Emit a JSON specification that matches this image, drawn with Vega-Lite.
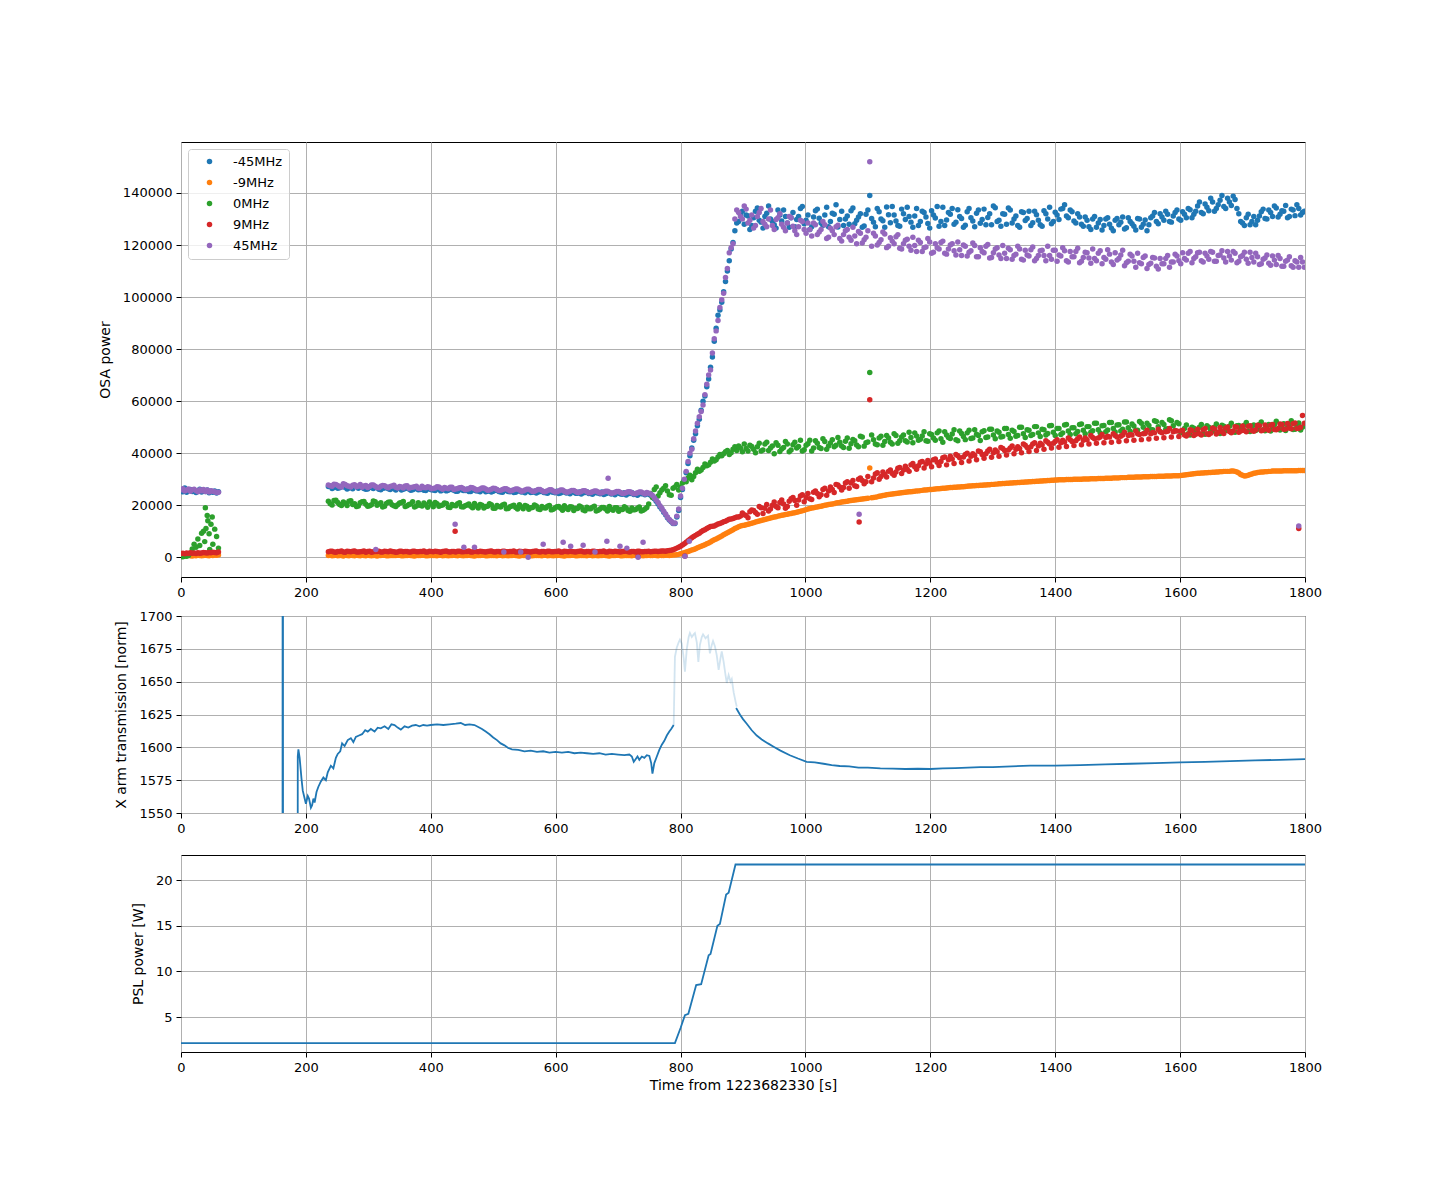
{
  "$schema": "https://vega.github.io/schema/vega-lite/v6.json",
  "background": "white",
  "padding": {"left": 97, "top": 141, "right": 10, "bottom": 10},
  "spacing": 9,
  "config": {
    "font": "DejaVu Sans",
    "view": {"stroke": "black", "strokeWidth": 1},
    "axis": {
      "labelFont": "DejaVu Sans", "labelFontSize": 13, "labelColor": "black",
      "titleFont": "DejaVu Sans", "titleFontSize": 14, "titleFontWeight": "normal", "titleColor": "black",
      "tickColor": "black", "tickSize": 5, "tickWidth": 1, "labelPadding": 4, "titlePadding": 5,
      "domain": false, "grid": true, "gridColor": "#b0b0b0", "gridWidth": 1,
      "labelFlush": false, "labelOverlap": false
    },
    "axisY": {"titlePadding": 10, "labelPadding": 4}
  },
  "datasets": {
    "osa": [
      {"t":0,"a":25800,"b":600,"c":300,"d":1400,"e":25900},
      {"t":3,"a":25200,"b":500,"c":200,"d":1500,"e":26300},
      {"t":6,"a":26600,"b":700,"c":500,"d":1300,"e":25500},
      {"t":9,"a":25000,"b":600,"c":400,"d":1600,"e":25800},
      {"t":12,"a":25600,"b":800,"c":700,"d":1400,"e":26200},
      {"t":15,"a":26000,"b":600,"c":1500,"d":1700,"e":25400},
      {"t":18,"a":25300,"b":500,"c":3200,"d":1500,"e":25900},
      {"t":21,"a":25700,"b":700,"c":5000,"d":1600,"e":26100},
      {"t":24,"a":24900,"b":600,"c":3800,"d":1400,"e":25600},
      {"t":27,"a":25500,"b":800,"c":7000,"d":1700,"e":25200},
      {"t":30,"a":26100,"b":700,"c":4500,"d":1500,"e":25900},
      {"t":33,"a":25100,"b":600,"c":9200,"d":1600,"e":25500},
      {"t":36,"a":25600,"b":700,"c":10000,"d":1800,"e":26000},
      {"t":39,"a":25300,"b":800,"c":19000,"d":1700,"e":25300},
      {"t":42,"a":25800,"b":700,"c":16000,"d":1600,"e":25800},
      {"t":45,"a":24800,"b":600,"c":9000,"d":1800,"e":25100},
      {"t":48,"a":25400,"b":800,"c":12700,"d":1700,"e":25600},
      {"t":51,"a":25000,"b":700,"c":5000,"d":1900,"e":25400},
      {"t":54,"a":25500,"b":900,"c":10800,"d":1800,"e":25200},
      {"t":57,"a":24700,"b":800,"c":8000,"d":1700,"e":24900},
      {"t":60,"a":25200,"b":900,"c":3500,"d":2000,"e":25000},
      {"t":38,"c":6000},{"t":43,"c":14000},{"t":46,"c":3000},{"t":50,"c":15500},{"t":40,"c":11000},
      {"t":236,"a":27200,"b":700,"c":21500,"d":2100,"e":27800},
      {"t":242,"a":26400,"b":600,"c":20100,"d":2300,"e":27300},
      {"t":248,"a":27500,"b":800,"c":21900,"d":1900,"e":28000},
      {"t":254,"a":26700,"b":700,"c":20300,"d":2200,"e":27100},
      {"t":260,"a":27100,"b":500,"c":21200,"d":2000,"e":28200},
      {"t":266,"a":26200,"b":700,"c":19900,"d":2300,"e":27500},
      {"t":272,"a":26900,"b":800,"c":21700,"d":2100,"e":27000},
      {"t":278,"a":27400,"b":600,"c":20600,"d":2400,"e":27900},
      {"t":284,"a":26500,"b":700,"c":19700,"d":2000,"e":27400},
      {"t":290,"a":26800,"b":800,"c":21300,"d":2200,"e":26900},
      {"t":296,"a":26100,"b":600,"c":20400,"d":1900,"e":27600},
      {"t":302,"a":27000,"b":700,"c":19800,"d":2300,"e":27200},
      {"t":308,"a":26400,"b":700,"c":21600,"d":2100,"e":27800},
      {"t":314,"a":26700,"b":500,"c":20000,"d":2200,"e":26800},
      {"t":320,"a":25900,"b":700,"c":20900,"d":2000,"e":27300},
      {"t":326,"a":26600,"b":800,"c":19600,"d":2300,"e":27500},
      {"t":332,"a":26300,"b":600,"c":21100,"d":2100,"e":26700},
      {"t":338,"a":26900,"b":700,"c":20200,"d":2200,"e":27400},
      {"t":344,"a":25800,"b":700,"c":19500,"d":1900,"e":26900},
      {"t":350,"a":26500,"b":800,"c":20800,"d":2300,"e":27200},
      {"t":356,"a":26100,"b":600,"c":21400,"d":2100,"e":26600},
      {"t":362,"a":26700,"b":700,"c":19800,"d":2200,"e":27500},
      {"t":368,"a":25700,"b":700,"c":20500,"d":2000,"e":26800},
      {"t":374,"a":26300,"b":500,"c":19300,"d":2300,"e":27100},
      {"t":380,"a":25900,"b":700,"c":20900,"d":2100,"e":26500},
      {"t":386,"a":26400,"b":800,"c":19700,"d":2200,"e":27300},
      {"t":392,"a":25600,"b":600,"c":20200,"d":2000,"e":26700},
      {"t":398,"a":26200,"b":700,"c":21200,"d":2300,"e":26900},
      {"t":404,"a":25800,"b":700,"c":19400,"d":2100,"e":26400},
      {"t":410,"a":26300,"b":600,"c":20600,"d":2200,"e":27100},
      {"t":416,"a":25500,"b":800,"c":19900,"d":1900,"e":26500},
      {"t":422,"a":26100,"b":700,"c":20800,"d":2300,"e":26800},
      {"t":428,"a":25700,"b":600,"c":19200,"d":2100,"e":26300},
      {"t":434,"a":26000,"b":700,"c":20300,"d":2200,"e":26900},
      {"t":440,"a":25400,"b":700,"c":19800,"d":2000,"e":26200},
      {"t":446,"a":25900,"b":800,"c":20900,"d":2300,"e":26700},
      {"t":452,"a":25600,"b":600,"c":19300,"d":2100,"e":26400},
      {"t":458,"a":26100,"b":700,"c":20100,"d":2200,"e":26100},
      {"t":464,"a":25300,"b":700,"c":19600,"d":2000,"e":26800},
      {"t":470,"a":25800,"b":500,"c":20700,"d":2300,"e":26300},
      {"t":476,"a":25500,"b":700,"c":18900,"d":2100,"e":25900},
      {"t":482,"a":25900,"b":800,"c":20000,"d":2200,"e":26600},
      {"t":488,"a":25200,"b":600,"c":19500,"d":2000,"e":26200},
      {"t":494,"a":25700,"b":700,"c":20600,"d":2300,"e":25800},
      {"t":500,"a":25400,"b":700,"c":18800,"d":2100,"e":26500},
      {"t":506,"a":25800,"b":600,"c":19900,"d":2200,"e":26000},
      {"t":512,"a":25100,"b":800,"c":19300,"d":2000,"e":25700},
      {"t":518,"a":25600,"b":700,"c":20400,"d":2300,"e":26300},
      {"t":524,"a":25300,"b":600,"c":18700,"d":2100,"e":25900},
      {"t":530,"a":25700,"b":700,"c":19700,"d":2200,"e":25600},
      {"t":536,"a":25000,"b":700,"c":19100,"d":2000,"e":26200},
      {"t":542,"a":25500,"b":500,"c":20200,"d":2300,"e":25800},
      {"t":548,"a":25200,"b":700,"c":18600,"d":2100,"e":25500},
      {"t":554,"a":25600,"b":800,"c":19600,"d":2200,"e":26100},
      {"t":560,"a":24900,"b":600,"c":19000,"d":2000,"e":25700},
      {"t":566,"a":25400,"b":700,"c":20100,"d":2300,"e":25400},
      {"t":572,"a":25100,"b":700,"c":18500,"d":2100,"e":26000},
      {"t":578,"a":25500,"b":600,"c":19500,"d":2200,"e":25600},
      {"t":584,"a":24800,"b":800,"c":18900,"d":2000,"e":25300},
      {"t":590,"a":25300,"b":700,"c":19900,"d":2300,"e":25900},
      {"t":596,"a":25000,"b":600,"c":18400,"d":2100,"e":25500},
      {"t":602,"a":25400,"b":700,"c":19400,"d":2200,"e":25200},
      {"t":608,"a":24700,"b":700,"c":18800,"d":2000,"e":25800},
      {"t":614,"a":25200,"b":500,"c":19800,"d":2300,"e":25400},
      {"t":620,"a":24900,"b":700,"c":18300,"d":2100,"e":25100},
      {"t":626,"a":25300,"b":800,"c":19300,"d":2200,"e":25700},
      {"t":632,"a":24600,"b":600,"c":18700,"d":2000,"e":25300},
      {"t":638,"a":25100,"b":700,"c":19700,"d":2300,"e":25000},
      {"t":644,"a":24800,"b":700,"c":18200,"d":2100,"e":25600},
      {"t":650,"a":25200,"b":600,"c":19200,"d":2200,"e":25200},
      {"t":656,"a":24500,"b":800,"c":18600,"d":2000,"e":24900},
      {"t":662,"a":25000,"b":700,"c":19600,"d":2300,"e":25500},
      {"t":668,"a":24700,"b":600,"c":18100,"d":2100,"e":25100},
      {"t":674,"a":25100,"b":700,"c":19100,"d":2200,"e":24800},
      {"t":680,"a":24400,"b":700,"c":18500,"d":2000,"e":25400},
      {"t":686,"a":24900,"b":500,"c":19500,"d":2300,"e":25000},
      {"t":692,"a":24600,"b":700,"c":18100,"d":2100,"e":24700},
      {"t":698,"a":25000,"b":800,"c":19000,"d":2200,"e":25300},
      {"t":704,"a":24300,"b":600,"c":18400,"d":2000,"e":24900},
      {"t":710,"a":24800,"b":700,"c":19400,"d":2300,"e":24600},
      {"t":716,"a":24500,"b":700,"c":18000,"d":2100,"e":25200},
      {"t":722,"a":24900,"b":600,"c":18900,"d":2200,"e":24800},
      {"t":728,"a":24200,"b":800,"c":18300,"d":2000,"e":24500},
      {"t":734,"a":24700,"b":700,"c":19300,"d":2300,"e":25100},
      {"t":740,"a":24400,"b":600,"c":18100,"d":2100,"e":24700},
      {"t":746,"a":24600,"b":700,"c":19100,"d":2200,"e":24900},
      {"t":752,"a":23800,"b":700,"c":24500,"d":2100,"e":24300},
      {"t":758,"a":22500,"b":800,"c":26000,"d":2300,"e":22900},
      {"t":764,"a":20500,"b":600,"c":23500,"d":2200,"e":21000},
      {"t":770,"a":18400,"b":700,"c":25800,"d":2400,"e":18800},
      {"t":776,"a":16300,"b":800,"c":27500,"d":2300,"e":16600},
      {"t":782,"a":14300,"b":700,"c":24000,"d":2600,"e":14500},
      {"t":788,"a":13000,"b":900,"c":26500,"d":2900,"e":13100},
      {"t":794,"a":15500,"b":1000,"c":28000,"d":3500,"e":15800},
      {"t":800,"a":23000,"b":1300,"c":27000,"d":4200,"e":23500},
      {"t":806,"a":29500,"b":1700,"c":29500,"d":5200,"e":30000},
      {"t":812,"a":36000,"b":2200,"c":30500,"d":6300,"e":36800},
      {"t":818,"a":42000,"b":2800,"c":29800,"d":7500,"e":41500},
      {"t":824,"a":47500,"b":3300,"c":32500,"d":8400,"e":48500},
      {"t":830,"a":53000,"b":3900,"c":33000,"d":9200,"e":54000},
      {"t":836,"a":60000,"b":4500,"c":34500,"d":10300,"e":58500},
      {"t":842,"a":65500,"b":5200,"c":35200,"d":11000,"e":66500},
      {"t":848,"a":73000,"b":5900,"c":36500,"d":11800,"e":72000},
      {"t":854,"a":83000,"b":6700,"c":37000,"d":12000,"e":84000},
      {"t":860,"a":93000,"b":7400,"c":38500,"d":12800,"e":91000},
      {"t":866,"a":98000,"b":8200,"c":39000,"d":13300,"e":99000},
      {"t":872,"a":106000,"b":9000,"c":40500,"d":13800,"e":107500},
      {"t":878,"a":114000,"b":9800,"c":39500,"d":14600,"e":117000},
      {"t":884,"a":121000,"b":10600,"c":41500,"d":14900,"e":120500},
      {"t":890,"a":128500,"b":11300,"c":41000,"d":15500,"e":133500},
      {"t":896,"a":131500,"b":12000,"c":42000,"d":15800,"e":131000},
      {"t":902,"a":128000,"b":12300,"c":43500,"d":16300,"e":135000},
      {"t":908,"a":131200,"b":12700,"c":40800,"d":15200,"e":128500},
      {"t":914,"a":127500,"b":13100,"c":42600,"d":18200,"e":131500},
      {"t":920,"a":133000,"b":13500,"c":40200,"d":17200,"e":127500},
      {"t":926,"a":129500,"b":13900,"c":43800,"d":19500,"e":132500},
      {"t":932,"a":126500,"b":14300,"c":41200,"d":16800,"e":129000},
      {"t":938,"a":132200,"b":14700,"c":44200,"d":20300,"e":127000},
      {"t":944,"a":130000,"b":15100,"c":42000,"d":18500,"e":133500},
      {"t":950,"a":127800,"b":15500,"c":39800,"d":21200,"e":126000},
      {"t":956,"a":133500,"b":15800,"c":43000,"d":19000,"e":130500},
      {"t":962,"a":129200,"b":16100,"c":41600,"d":22000,"e":128000},
      {"t":968,"a":131000,"b":16400,"c":44500,"d":18800,"e":125500},
      {"t":974,"a":126800,"b":16700,"c":40500,"d":21500,"e":131000},
      {"t":980,"a":132500,"b":17000,"c":43200,"d":23000,"e":127200},
      {"t":986,"a":129800,"b":17300,"c":42000,"d":20000,"e":124000},
      {"t":992,"a":134000,"b":17700,"c":45000,"d":23500,"e":129500},
      {"t":998,"a":128200,"b":18100,"c":41300,"d":21300,"e":126000},
      {"t":1004,"a":131500,"b":18500,"c":43600,"d":24500,"e":128500},
      {"t":1010,"a":127000,"b":18900,"c":40800,"d":22200,"e":123500},
      {"t":1016,"a":133200,"b":19200,"c":44800,"d":25500,"e":127800},
      {"t":1022,"a":130300,"b":19500,"c":42200,"d":23200,"e":125000},
      {"t":1028,"a":127600,"b":19800,"c":45500,"d":26000,"e":129000},
      {"t":1034,"a":134500,"b":20100,"c":41500,"d":23800,"e":122500},
      {"t":1040,"a":129000,"b":20400,"c":43900,"d":27000,"e":126500},
      {"t":1046,"a":131800,"b":20600,"c":42500,"d":24900,"e":124000},
      {"t":1052,"a":126900,"b":20900,"c":46000,"d":27800,"e":127600},
      {"t":1058,"a":133000,"b":21200,"c":42800,"d":25800,"e":121500},
      {"t":1064,"a":130000,"b":21400,"c":44600,"d":28500,"e":125500},
      {"t":1070,"a":128000,"b":21700,"c":41900,"d":26500,"e":123000},
      {"t":1076,"a":134200,"b":21900,"c":45300,"d":29500,"e":126800},
      {"t":1082,"a":129500,"b":22100,"c":43100,"d":27200,"e":120500},
      {"t":1088,"a":132000,"b":22300,"c":46500,"d":30500,"e":124500},
      {"t":1094,"a":127300,"b":22500,"c":42700,"d":28200,"e":122000},
      {"t":1100,"a":133500,"b":22700,"c":44300,"d":31000,"e":125500},
      {"t":1106,"a":130200,"b":22900,"c":47000,"d":29000,"e":119500},
      {"t":1112,"a":127000,"b":23100,"c":43500,"d":32000,"e":123500},
      {"t":1118,"a":132800,"b":23400,"c":45800,"d":30000,"e":121000},
      {"t":1124,"a":129300,"b":23700,"c":43000,"d":32800,"e":125000},
      {"t":1130,"a":134600,"b":24000,"c":46800,"d":30800,"e":119000},
      {"t":1136,"a":128600,"b":24200,"c":44200,"d":33500,"e":122800},
      {"t":1142,"a":131500,"b":24400,"c":47500,"d":31500,"e":120500},
      {"t":1148,"a":127500,"b":24600,"c":43800,"d":34200,"e":124000},
      {"t":1154,"a":133800,"b":24800,"c":46200,"d":32200,"e":118500},
      {"t":1160,"a":129800,"b":25000,"c":44800,"d":35000,"e":121800},
      {"t":1166,"a":131000,"b":25200,"c":48000,"d":33000,"e":119500},
      {"t":1172,"a":126800,"b":25300,"c":44000,"d":36000,"e":123000},
      {"t":1178,"a":134000,"b":25500,"c":46600,"d":33800,"e":117500},
      {"t":1184,"a":129000,"b":25600,"c":45300,"d":36500,"e":121000},
      {"t":1190,"a":132500,"b":25800,"c":48200,"d":34300,"e":119000},
      {"t":1196,"a":128300,"b":25900,"c":44600,"d":37200,"e":122500},
      {"t":1202,"a":133200,"b":26000,"c":47200,"d":34800,"e":116800},
      {"t":1208,"a":130400,"b":26200,"c":45000,"d":37800,"e":120500},
      {"t":1214,"a":127200,"b":26300,"c":48500,"d":35300,"e":118500},
      {"t":1220,"a":134500,"b":26500,"c":44200,"d":38200,"e":121500},
      {"t":1226,"a":129600,"b":26600,"c":47000,"d":35500,"e":116500},
      {"t":1232,"a":131800,"b":26800,"c":45600,"d":38800,"e":120000},
      {"t":1238,"a":128000,"b":26900,"c":49000,"d":36000,"e":117800},
      {"t":1244,"a":133600,"b":27000,"c":44800,"d":39000,"e":121200},
      {"t":1250,"a":130200,"b":27100,"c":47600,"d":36400,"e":116000},
      {"t":1256,"a":127600,"b":27200,"c":45200,"d":39500,"e":119500},
      {"t":1262,"a":134000,"b":27400,"c":48800,"d":37000,"e":117200},
      {"t":1268,"a":129200,"b":27500,"c":45800,"d":39800,"e":120800},
      {"t":1274,"a":132200,"b":27600,"c":47300,"d":37500,"e":115500},
      {"t":1280,"a":128400,"b":27700,"c":44900,"d":40500,"e":119000},
      {"t":1286,"a":133800,"b":27800,"c":48600,"d":38000,"e":117000},
      {"t":1292,"a":130600,"b":27900,"c":46200,"d":40800,"e":120200},
      {"t":1298,"a":127800,"b":28000,"c":49200,"d":38400,"e":115200},
      {"t":1304,"a":134300,"b":28100,"c":45500,"d":41200,"e":118500},
      {"t":1310,"a":129500,"b":28200,"c":48000,"d":38800,"e":116200},
      {"t":1316,"a":132000,"b":28300,"c":46400,"d":41800,"e":119800},
      {"t":1322,"a":128000,"b":28400,"c":49500,"d":39300,"e":114800},
      {"t":1328,"a":133500,"b":28500,"c":45700,"d":42000,"e":118200},
      {"t":1334,"a":130000,"b":28600,"c":48300,"d":39800,"e":116000},
      {"t":1340,"a":127500,"b":28700,"c":46800,"d":42500,"e":119500},
      {"t":1346,"a":132800,"b":28800,"c":50000,"d":40200,"e":114500},
      {"t":1352,"a":129400,"b":28900,"c":46000,"d":43000,"e":118000},
      {"t":1358,"a":133000,"b":29000,"c":48800,"d":40600,"e":115800},
      {"t":1364,"a":128600,"b":29100,"c":47200,"d":43500,"e":119200},
      {"t":1370,"a":131600,"b":29200,"c":50200,"d":41000,"e":114800},
      {"t":1376,"a":127800,"b":29300,"c":46400,"d":43800,"e":117800},
      {"t":1382,"a":133200,"b":29400,"c":49000,"d":41500,"e":116000},
      {"t":1388,"a":130000,"b":29500,"c":47600,"d":44200,"e":119500},
      {"t":1394,"a":128200,"b":29600,"c":50600,"d":42000,"e":114500},
      {"t":1400,"a":132600,"b":29700,"c":46800,"d":44500,"e":118000},
      {"t":1406,"a":129800,"b":29800,"c":49500,"d":42300,"e":116200},
      {"t":1412,"a":134000,"b":29800,"c":47800,"d":45000,"e":119000},
      {"t":1418,"a":131200,"b":29900,"c":51000,"d":42600,"e":114000},
      {"t":1424,"a":133500,"b":29900,"c":47200,"d":45200,"e":117500},
      {"t":1430,"a":129200,"b":30000,"c":49800,"d":42900,"e":115500},
      {"t":1436,"a":132000,"b":30000,"c":48300,"d":45500,"e":118800},
      {"t":1442,"a":128000,"b":30000,"c":51200,"d":43200,"e":113800},
      {"t":1448,"a":130800,"b":30100,"c":47500,"d":45800,"e":117200},
      {"t":1454,"a":127000,"b":30100,"c":50200,"d":43500,"e":115000},
      {"t":1460,"a":130000,"b":30200,"c":48600,"d":46000,"e":118500},
      {"t":1466,"a":126800,"b":30200,"c":51500,"d":43800,"e":114000},
      {"t":1472,"a":129800,"b":30300,"c":47800,"d":46200,"e":117800},
      {"t":1478,"a":127500,"b":30300,"c":50600,"d":44000,"e":115200},
      {"t":1484,"a":130500,"b":30400,"c":48900,"d":46500,"e":118200},
      {"t":1490,"a":126500,"b":30400,"c":51800,"d":44200,"e":113500},
      {"t":1496,"a":129500,"b":30500,"c":48100,"d":46800,"e":117000},
      {"t":1502,"a":127800,"b":30500,"c":50900,"d":44500,"e":114800},
      {"t":1508,"a":130800,"b":30600,"c":49200,"d":47000,"e":118000},
      {"t":1514,"a":126600,"b":30600,"c":52000,"d":44800,"e":113200},
      {"t":1520,"a":129000,"b":30700,"c":48400,"d":47200,"e":116500},
      {"t":1526,"a":127200,"b":30700,"c":50400,"d":45000,"e":113800},
      {"t":1532,"a":130200,"b":30800,"c":48800,"d":47500,"e":116800},
      {"t":1538,"a":126800,"b":30800,"c":51500,"d":45200,"e":112800},
      {"t":1544,"a":129600,"b":30900,"c":47900,"d":47600,"e":115800},
      {"t":1550,"a":127800,"b":30900,"c":50600,"d":45400,"e":112500},
      {"t":1556,"a":131200,"b":31000,"c":49000,"d":47900,"e":115200},
      {"t":1562,"a":129000,"b":31000,"c":52200,"d":45700,"e":111800},
      {"t":1568,"a":132000,"b":31100,"c":48300,"d":48200,"e":114800},
      {"t":1574,"a":129500,"b":31100,"c":51000,"d":45900,"e":112800},
      {"t":1580,"a":131800,"b":31200,"c":49400,"d":48400,"e":116000},
      {"t":1586,"a":128800,"b":31200,"c":52500,"d":46200,"e":113500},
      {"t":1592,"a":132500,"b":31300,"c":48700,"d":48600,"e":116500},
      {"t":1598,"a":130000,"b":31300,"c":51300,"d":46400,"e":114000},
      {"t":1604,"a":132800,"b":31500,"c":47800,"d":48800,"e":117000},
      {"t":1610,"a":130500,"b":31700,"c":50800,"d":46600,"e":114200},
      {"t":1616,"a":133600,"b":31900,"c":47000,"d":49000,"e":117500},
      {"t":1622,"a":131800,"b":32100,"c":49600,"d":46800,"e":114800},
      {"t":1628,"a":135000,"b":32300,"c":48000,"d":49200,"e":117000},
      {"t":1634,"a":132500,"b":32400,"c":51000,"d":47000,"e":114000},
      {"t":1640,"a":135800,"b":32500,"c":47300,"d":49500,"e":116800},
      {"t":1646,"a":133200,"b":32600,"c":50000,"d":47200,"e":114500},
      {"t":1652,"a":136500,"b":32700,"c":48400,"d":49700,"e":117200},
      {"t":1658,"a":134000,"b":32800,"c":51200,"d":47400,"e":113800},
      {"t":1664,"a":137200,"b":32900,"c":47600,"d":49900,"e":116200},
      {"t":1670,"a":134800,"b":33000,"c":50300,"d":47600,"e":115000},
      {"t":1676,"a":138000,"b":33000,"c":48800,"d":50100,"e":117500},
      {"t":1682,"a":135200,"b":33100,"c":51500,"d":47800,"e":114200},
      {"t":1688,"a":137500,"b":33000,"c":48000,"d":50200,"e":116800},
      {"t":1694,"a":132000,"b":32400,"c":50600,"d":48000,"e":113800},
      {"t":1700,"a":128500,"b":31500,"c":49000,"d":50400,"e":116000},
      {"t":1706,"a":130500,"b":31300,"c":51800,"d":48200,"e":114500},
      {"t":1712,"a":127800,"b":31800,"c":48300,"d":50500,"e":117200},
      {"t":1718,"a":131000,"b":32300,"c":50800,"d":48400,"e":113500},
      {"t":1724,"a":129500,"b":32600,"c":49200,"d":50700,"e":115500},
      {"t":1730,"a":132800,"b":32800,"c":52000,"d":48600,"e":112800},
      {"t":1736,"a":130200,"b":32900,"c":48600,"d":50800,"e":115000},
      {"t":1742,"a":133500,"b":33000,"c":51000,"d":48800,"e":113000},
      {"t":1748,"a":131000,"b":33100,"c":49500,"d":51000,"e":115800},
      {"t":1754,"a":134200,"b":33100,"c":52300,"d":49000,"e":112500},
      {"t":1760,"a":131800,"b":33100,"c":48900,"d":51200,"e":114800},
      {"t":1766,"a":133000,"b":33200,"c":51300,"d":49200,"e":111800},
      {"t":1772,"a":130500,"b":33200,"c":49800,"d":51400,"e":114200},
      {"t":1778,"a":133800,"b":33200,"c":52500,"d":49400,"e":112000},
      {"t":1784,"a":131300,"b":33200,"c":49200,"d":51600,"e":114000},
      {"t":1790,"a":134000,"b":33300,"c":51600,"d":49600,"e":111500},
      {"t":1796,"a":132500,"b":33300,"c":50000,"d":54500,"e":113500},
      {"t":239,"a":27400,"b":800,"c":20600,"d":2300,"e":27500},
      {"t":245,"a":26800,"b":700,"c":21800,"d":2000,"e":28100},
      {"t":251,"a":26500,"b":600,"c":21000,"d":2200,"e":27600},
      {"t":257,"a":27300,"b":700,"c":19900,"d":2400,"e":27000},
      {"t":263,"a":26900,"b":800,"c":20700,"d":1900,"e":28000},
      {"t":269,"a":26600,"b":600,"c":21500,"d":2200,"e":27300},
      {"t":275,"a":26300,"b":700,"c":20300,"d":2300,"e":27700},
      {"t":281,"a":27200,"b":800,"c":19500,"d":2000,"e":27100},
      {"t":287,"a":26900,"b":600,"c":20900,"d":2100,"e":28000},
      {"t":293,"a":26400,"b":700,"c":21400,"d":2400,"e":27400},
      {"t":299,"a":26200,"b":800,"c":19600,"d":2200,"e":26800},
      {"t":305,"a":26800,"b":600,"c":20200,"d":1900,"e":27800},
      {"t":311,"a":27100,"b":700,"c":21300,"d":2200,"e":27300},
      {"t":317,"a":26100,"b":700,"c":20500,"d":2300,"e":26700},
      {"t":323,"a":26500,"b":800,"c":19300,"d":2000,"e":27600},
      {"t":329,"a":26900,"b":600,"c":20700,"d":2200,"e":27000},
      {"t":335,"a":26000,"b":700,"c":21200,"d":2400,"e":27200},
      {"t":341,"a":26300,"b":700,"c":19800,"d":2100,"e":27700},
      {"t":347,"a":26700,"b":800,"c":20200,"d":2000,"e":26600},
      {"t":353,"a":25800,"b":600,"c":21000,"d":2300,"e":27000},
      {"t":359,"a":26400,"b":700,"c":19500,"d":2200,"e":27400},
      {"t":365,"a":26200,"b":800,"c":20300,"d":2000,"e":26500},
      {"t":371,"a":25900,"b":600,"c":21300,"d":2300,"e":26900},
      {"t":377,"a":26600,"b":700,"c":19700,"d":2100,"e":27300},
      {"t":383,"a":26000,"b":700,"c":20000,"d":2200,"e":26400},
      {"t":389,"a":25700,"b":800,"c":20800,"d":2400,"e":26800},
      {"t":395,"a":26400,"b":600,"c":19200,"d":2000,"e":27100},
      {"t":401,"a":25900,"b":700,"c":20400,"d":2200,"e":26300},
      {"t":407,"a":25600,"b":700,"c":21000,"d":2300,"e":26600},
      {"t":413,"a":26200,"b":800,"c":19600,"d":2100,"e":27000},
      {"t":419,"a":25800,"b":600,"c":20100,"d":2200,"e":26100},
      {"t":425,"a":25500,"b":700,"c":20700,"d":2400,"e":26500},
      {"t":431,"a":26100,"b":700,"c":19100,"d":2000,"e":26900},
      {"t":437,"a":25700,"b":800,"c":19900,"d":2200,"e":26000},
      {"t":443,"a":25400,"b":600,"c":20600,"d":2300,"e":26400},
      {"t":449,"a":26000,"b":700,"c":19400,"d":2100,"e":26800},
      {"t":455,"a":25600,"b":700,"c":19800,"d":2200,"e":25900},
      {"t":461,"a":25300,"b":800,"c":20500,"d":2400,"e":26300},
      {"t":467,"a":25900,"b":600,"c":19000,"d":2000,"e":26700},
      {"t":473,"a":25500,"b":700,"c":19700,"d":2200,"e":25800},
      {"t":479,"a":25200,"b":700,"c":20300,"d":2300,"e":26200},
      {"t":485,"a":25800,"b":800,"c":18900,"d":2100,"e":26600},
      {"t":491,"a":25400,"b":600,"c":19600,"d":2200,"e":25700},
      {"t":497,"a":25100,"b":700,"c":20200,"d":2400,"e":26100},
      {"t":503,"a":25700,"b":700,"c":18800,"d":2000,"e":26400},
      {"t":509,"a":25300,"b":800,"c":19500,"d":2200,"e":25600},
      {"t":515,"a":25000,"b":600,"c":20100,"d":2300,"e":26000},
      {"t":521,"a":25600,"b":700,"c":18600,"d":2100,"e":26300},
      {"t":527,"a":25200,"b":700,"c":19400,"d":2200,"e":25500},
      {"t":533,"a":24900,"b":800,"c":20000,"d":2400,"e":25900},
      {"t":539,"a":25500,"b":600,"c":18500,"d":2000,"e":26200},
      {"t":545,"a":25100,"b":700,"c":19300,"d":2200,"e":25400},
      {"t":551,"a":24800,"b":700,"c":19900,"d":2300,"e":25800},
      {"t":557,"a":25400,"b":800,"c":18400,"d":2100,"e":26100},
      {"t":563,"a":25000,"b":600,"c":19100,"d":2200,"e":25300},
      {"t":569,"a":24700,"b":700,"c":19700,"d":2400,"e":25700},
      {"t":575,"a":25300,"b":700,"c":18300,"d":2000,"e":26000},
      {"t":581,"a":24900,"b":800,"c":19000,"d":2200,"e":25200},
      {"t":587,"a":24600,"b":600,"c":19600,"d":2300,"e":25600},
      {"t":593,"a":25200,"b":700,"c":18200,"d":2100,"e":25900},
      {"t":599,"a":24800,"b":700,"c":18900,"d":2200,"e":25100},
      {"t":605,"a":24500,"b":800,"c":19500,"d":2400,"e":25500},
      {"t":611,"a":25100,"b":600,"c":18100,"d":2000,"e":25800},
      {"t":617,"a":24700,"b":700,"c":18800,"d":2200,"e":25000},
      {"t":623,"a":24400,"b":700,"c":19400,"d":2300,"e":25400},
      {"t":629,"a":25000,"b":800,"c":18000,"d":2100,"e":25700},
      {"t":635,"a":24600,"b":600,"c":18700,"d":2200,"e":24900},
      {"t":641,"a":24300,"b":700,"c":19300,"d":2400,"e":25300},
      {"t":647,"a":24900,"b":700,"c":17900,"d":2000,"e":25600},
      {"t":653,"a":24500,"b":800,"c":18600,"d":2200,"e":24800},
      {"t":659,"a":24200,"b":600,"c":19200,"d":2300,"e":25200},
      {"t":665,"a":24800,"b":700,"c":17800,"d":2100,"e":25500},
      {"t":671,"a":24400,"b":700,"c":18500,"d":2200,"e":24700},
      {"t":677,"a":24100,"b":800,"c":19100,"d":2400,"e":25100},
      {"t":683,"a":24700,"b":600,"c":17800,"d":2000,"e":25400},
      {"t":689,"a":24300,"b":700,"c":18400,"d":2200,"e":24600},
      {"t":695,"a":24000,"b":700,"c":19000,"d":2300,"e":25000},
      {"t":701,"a":24600,"b":800,"c":17700,"d":2100,"e":25300},
      {"t":707,"a":24200,"b":600,"c":18300,"d":2200,"e":24500},
      {"t":713,"a":23900,"b":700,"c":18900,"d":2400,"e":24900},
      {"t":719,"a":24500,"b":700,"c":17700,"d":2000,"e":25200},
      {"t":725,"a":24100,"b":800,"c":18200,"d":2200,"e":24400},
      {"t":731,"a":23800,"b":600,"c":18800,"d":2300,"e":24800},
      {"t":737,"a":24400,"b":700,"c":17800,"d":2100,"e":25100},
      {"t":743,"a":24000,"b":700,"c":18500,"d":2200,"e":24300},
      {"t":749,"a":24200,"b":800,"c":20500,"d":2300,"e":24600},
      {"t":755,"a":23200,"b":700,"c":23000,"d":2200,"e":23700},
      {"t":761,"a":21500,"b":700,"c":27000,"d":2300,"e":22000},
      {"t":767,"a":19300,"b":800,"c":24800,"d":2300,"e":19800},
      {"t":773,"a":17300,"b":700,"c":26500,"d":2400,"e":17700},
      {"t":779,"a":15200,"b":800,"c":25500,"d":2500,"e":15500},
      {"t":785,"a":13600,"b":800,"c":23800,"d":2700,"e":13800},
      {"t":791,"a":13000,"b":900,"c":27000,"d":3200,"e":13200},
      {"t":797,"a":18000,"b":1100,"c":25800,"d":3800,"e":18500},
      {"t":803,"a":26000,"b":1500,"c":28500,"d":4700,"e":26500},
      {"t":809,"a":32500,"b":2000,"c":29000,"d":5800,"e":33000},
      {"t":815,"a":39000,"b":2500,"c":31500,"d":6900,"e":40000},
      {"t":821,"a":45000,"b":3000,"c":31000,"d":8000,"e":45500},
      {"t":827,"a":50500,"b":3600,"c":33800,"d":8800,"e":51500},
      {"t":833,"a":56500,"b":4200,"c":33500,"d":9800,"e":56000},
      {"t":839,"a":62000,"b":4800,"c":35800,"d":10600,"e":62500},
      {"t":845,"a":68500,"b":5500,"c":35500,"d":11400,"e":70000},
      {"t":851,"a":77000,"b":6300,"c":37800,"d":11900,"e":78500},
      {"t":857,"a":88000,"b":7000,"c":37500,"d":12400,"e":87000},
      {"t":863,"a":95000,"b":7800,"c":39500,"d":13000,"e":96000},
      {"t":869,"a":102000,"b":8600,"c":39800,"d":13600,"e":101500},
      {"t":875,"a":110000,"b":9400,"c":41000,"d":14200,"e":111000},
      {"t":881,"a":118500,"b":10200,"c":40200,"d":14700,"e":119000},
      {"t":887,"a":125500,"b":11000,"c":42500,"d":15200,"e":130000},
      {"t":893,"a":129000,"b":11700,"c":42800,"d":15500,"e":132500},
      {"t":899,"a":133000,"b":12200,"c":40500,"d":17000,"e":130000},
      {"t":905,"a":131500,"b":12500,"c":41800,"d":16000,"e":133800},
      {"t":911,"a":126000,"b":12900,"c":43000,"d":17500,"e":129500},
      {"t":917,"a":130500,"b":13300,"c":41500,"d":18000,"e":126500},
      {"t":923,"a":134200,"b":13700,"c":42500,"d":16500,"e":131000},
      {"t":929,"a":128800,"b":14100,"c":40800,"d":19000,"e":134000},
      {"t":935,"a":131000,"b":14500,"c":43500,"d":18800,"e":128000},
      {"t":941,"a":135000,"b":14900,"c":41000,"d":17800,"e":130000},
      {"t":947,"a":129000,"b":15300,"c":42800,"d":20000,"e":127500},
      {"t":953,"a":126500,"b":15600,"c":44000,"d":19500,"e":129800},
      {"t":959,"a":131500,"b":15900,"c":40600,"d":21000,"e":132000},
      {"t":965,"a":133500,"b":16200,"c":42200,"d":20500,"e":126800},
      {"t":971,"a":128500,"b":16500,"c":43500,"d":19500,"e":128500},
      {"t":977,"a":130500,"b":16800,"c":41200,"d":22500,"e":130500},
      {"t":983,"a":127000,"b":17100,"c":44200,"d":21800,"e":125500},
      {"t":989,"a":131000,"b":17500,"c":42600,"d":22000,"e":127000},
      {"t":995,"a":134800,"b":17900,"c":40800,"d":24000,"e":129000},
      {"t":1001,"a":129500,"b":18300,"c":43000,"d":23000,"e":124500},
      {"t":1007,"a":126000,"b":18700,"c":45000,"d":22500,"e":126000},
      {"t":1013,"a":130800,"b":19000,"c":42000,"d":25000,"e":128500},
      {"t":1019,"a":133800,"b":19300,"c":43800,"d":24500,"e":124000},
      {"t":1025,"a":128500,"b":19600,"c":41800,"d":24000,"e":126000},
      {"t":1031,"a":131500,"b":20000,"c":44500,"d":26500,"e":127800},
      {"t":1037,"a":127000,"b":20300,"c":42800,"d":25500,"e":123000},
      {"t":1043,"a":132200,"b":20500,"c":45200,"d":26000,"e":125500},
      {"t":1049,"a":135500,"b":20800,"c":43000,"d":28000,"e":127000},
      {"t":1055,"a":129800,"b":21000,"c":44200,"d":27000,"e":122500},
      {"t":1061,"a":127500,"b":21300,"c":42200,"d":26800,"e":124000},
      {"t":1067,"a":131200,"b":21500,"c":45800,"d":29000,"e":126000},
      {"t":1073,"a":133200,"b":21800,"c":43600,"d":28500,"e":121800},
      {"t":1079,"a":128200,"b":22000,"c":44800,"d":27500,"e":123500},
      {"t":1085,"a":130800,"b":22200,"c":42500,"d":30000,"e":125200},
      {"t":1091,"a":126800,"b":22400,"c":46200,"d":29500,"e":120800},
      {"t":1097,"a":131800,"b":22600,"c":44000,"d":29000,"e":123000},
      {"t":1109,"a":128800,"b":23000,"c":45200,"d":30500,"e":124500},
      {"t":1115,"a":134000,"b":23200,"c":43200,"d":32500,"e":120000},
      {"t":1121,"a":130000,"b":23500,"c":46500,"d":31000,"e":122000},
      {"t":1127,"a":126800,"b":23800,"c":44500,"d":31800,"e":124200},
      {"t":1133,"a":131600,"b":24100,"c":45800,"d":33000,"e":119500},
      {"t":1139,"a":134800,"b":24300,"c":43500,"d":32200,"e":121500},
      {"t":1145,"a":129200,"b":24500,"c":46800,"d":32800,"e":123200},
      {"t":1151,"a":127200,"b":24700,"c":44800,"d":34500,"e":118800},
      {"t":1157,"a":132000,"b":24900,"c":47000,"d":33500,"e":120500},
      {"t":1163,"a":134500,"b":25100,"c":44300,"d":33800,"e":122200},
      {"t":1169,"a":128800,"b":25200,"c":46000,"d":35500,"e":118000},
      {"t":1175,"a":131200,"b":25400,"c":47800,"d":34800,"e":119800},
      {"t":1181,"a":127500,"b":25500,"c":45000,"d":35200,"e":121800},
      {"t":1187,"a":133000,"b":25700,"c":46600,"d":36800,"e":117500},
      {"t":1193,"a":130800,"b":25800,"c":44800,"d":35800,"e":119200},
      {"t":1199,"a":126500,"b":26000,"c":47500,"d":36200,"e":121200},
      {"t":1205,"a":131500,"b":26100,"c":45800,"d":37500,"e":117200},
      {"t":1211,"a":134800,"b":26300,"c":47800,"d":36500,"e":119000},
      {"t":1217,"a":129000,"b":26400,"c":45500,"d":36800,"e":121000},
      {"t":1223,"a":127500,"b":26500,"c":48200,"d":38500,"e":116800},
      {"t":1229,"a":132500,"b":26700,"c":46000,"d":37500,"e":118500},
      {"t":1235,"a":134000,"b":26800,"c":47400,"d":37800,"e":120500},
      {"t":1241,"a":128800,"b":26900,"c":45200,"d":39500,"e":116200},
      {"t":1247,"a":131000,"b":27000,"c":48500,"d":38200,"e":118200},
      {"t":1253,"a":126800,"b":27100,"c":46400,"d":38500,"e":120000},
      {"t":1259,"a":132800,"b":27300,"c":47800,"d":40000,"e":115800},
      {"t":1265,"a":130500,"b":27400,"c":45600,"d":38800,"e":117800},
      {"t":1271,"a":127000,"b":27500,"c":49000,"d":39200,"e":119800},
      {"t":1277,"a":133500,"b":27600,"c":46800,"d":40800,"e":115500},
      {"t":1283,"a":129800,"b":27700,"c":48200,"d":39500,"e":117500},
      {"t":1289,"a":127800,"b":27800,"c":46000,"d":39800,"e":119500},
      {"t":1295,"a":132000,"b":27900,"c":49200,"d":41500,"e":115000},
      {"t":1301,"a":135000,"b":28000,"c":47000,"d":40200,"e":117000},
      {"t":1307,"a":129000,"b":28100,"c":48500,"d":40500,"e":119000},
      {"t":1313,"a":127200,"b":28200,"c":46200,"d":42200,"e":114800},
      {"t":1319,"a":131800,"b":28300,"c":49500,"d":41000,"e":116800},
      {"t":1325,"a":134200,"b":28400,"c":47200,"d":41200,"e":118800},
      {"t":1331,"a":128500,"b":28500,"c":48800,"d":42800,"e":114500},
      {"t":1337,"a":131200,"b":28600,"c":46500,"d":41500,"e":116500},
      {"t":1343,"a":126800,"b":28700,"c":50000,"d":41800,"e":118500},
      {"t":1349,"a":132500,"b":28800,"c":47500,"d":43500,"e":114200},
      {"t":1355,"a":130200,"b":28900,"c":49000,"d":42200,"e":116200},
      {"t":1361,"a":127500,"b":29000,"c":46800,"d":42500,"e":118200},
      {"t":1367,"a":133000,"b":29100,"c":50200,"d":44000,"e":114000},
      {"t":1373,"a":129500,"b":29200,"c":47800,"d":42800,"e":116000},
      {"t":1379,"a":127200,"b":29300,"c":49200,"d":43200,"e":118000},
      {"t":1385,"a":132000,"b":29400,"c":47000,"d":44800,"e":114000},
      {"t":1391,"a":134500,"b":29500,"c":50500,"d":43500,"e":116000},
      {"t":1397,"a":129000,"b":29600,"c":48000,"d":43800,"e":118000},
      {"t":1403,"a":131500,"b":29700,"c":49500,"d":45200,"e":113800},
      {"t":1409,"a":133800,"b":29800,"c":47200,"d":44000,"e":115800},
      {"t":1415,"a":135500,"b":29800,"c":50800,"d":44300,"e":117800},
      {"t":1421,"a":130500,"b":29900,"c":48500,"d":45800,"e":113500},
      {"t":1427,"a":132800,"b":29900,"c":49800,"d":44500,"e":115500},
      {"t":1433,"a":128500,"b":30000,"c":47500,"d":44800,"e":117500},
      {"t":1439,"a":130800,"b":30000,"c":51000,"d":46200,"e":113200},
      {"t":1445,"a":127200,"b":30100,"c":48800,"d":45000,"e":115200},
      {"t":1451,"a":129500,"b":30100,"c":50200,"d":45200,"e":117000},
      {"t":1457,"a":126000,"b":30200,"c":48000,"d":46800,"e":113000},
      {"t":1463,"a":131000,"b":30200,"c":51500,"d":45500,"e":114800},
      {"t":1469,"a":128500,"b":30300,"c":49000,"d":45800,"e":116800},
      {"t":1475,"a":125800,"b":30300,"c":50500,"d":47200,"e":112800},
      {"t":1481,"a":130000,"b":30400,"c":48200,"d":46000,"e":114500},
      {"t":1487,"a":128000,"b":30400,"c":51800,"d":46200,"e":116500},
      {"t":1493,"a":125500,"b":30500,"c":49500,"d":47500,"e":112500},
      {"t":1499,"a":130200,"b":30500,"c":50800,"d":46200,"e":114200},
      {"t":1505,"a":128800,"b":30600,"c":48500,"d":46500,"e":116200},
      {"t":1511,"a":126200,"b":30600,"c":52000,"d":48000,"e":112000},
      {"t":1517,"a":130500,"b":30700,"c":49800,"d":46800,"e":113800},
      {"t":1523,"a":128200,"b":30700,"c":51200,"d":47000,"e":115800},
      {"t":1529,"a":125800,"b":30800,"c":48800,"d":48500,"e":111500},
      {"t":1535,"a":130000,"b":30800,"c":52200,"d":47200,"e":113200},
      {"t":1541,"a":128000,"b":30900,"c":50000,"d":47500,"e":115200},
      {"t":1547,"a":125500,"b":30900,"c":51500,"d":48800,"e":111000},
      {"t":1553,"a":130500,"b":31000,"c":49000,"d":47500,"e":113000},
      {"t":1559,"a":132500,"b":31000,"c":52500,"d":47800,"e":115000},
      {"t":1565,"a":128200,"b":31100,"c":50200,"d":49200,"e":110800},
      {"t":1571,"a":130800,"b":31100,"c":51800,"d":47800,"e":112800},
      {"t":1577,"a":133000,"b":31200,"c":49200,"d":48200,"e":114800},
      {"t":1583,"a":129000,"b":31200,"c":52800,"d":49500,"e":111500},
      {"t":1589,"a":131200,"b":31300,"c":50500,"d":48200,"e":113500},
      {"t":1595,"a":133500,"b":31300,"c":51800,"d":48500,"e":115800},
      {"t":1601,"a":129500,"b":31400,"c":48000,"d":48500,"e":112800},
      {"t":1607,"a":131800,"b":31600,"c":49500,"d":47000,"e":114800},
      {"t":1613,"a":134000,"b":31800,"c":47500,"d":47300,"e":116800},
      {"t":1619,"a":130500,"b":32000,"c":50000,"d":48700,"e":113200},
      {"t":1625,"a":133000,"b":32200,"c":48300,"d":47300,"e":115500},
      {"t":1631,"a":136500,"b":32300,"c":50000,"d":47500,"e":117200},
      {"t":1637,"a":132000,"b":32400,"c":47500,"d":49000,"e":113500},
      {"t":1643,"a":134500,"b":32500,"c":50500,"d":47500,"e":115800},
      {"t":1649,"a":138000,"b":32600,"c":48500,"d":47700,"e":117500},
      {"t":1655,"a":133000,"b":32700,"c":50000,"d":49300,"e":113800},
      {"t":1661,"a":135500,"b":32800,"c":48000,"d":48000,"e":116000},
      {"t":1667,"a":139000,"b":32900,"c":50700,"d":48300,"e":117800},
      {"t":1673,"a":134000,"b":33000,"c":48700,"d":49700,"e":113500},
      {"t":1679,"a":136500,"b":33000,"c":50300,"d":48300,"e":115800},
      {"t":1685,"a":138800,"b":33100,"c":48300,"d":48500,"e":117500},
      {"t":1691,"a":134000,"b":32800,"c":50500,"d":50000,"e":113200},
      {"t":1697,"a":129000,"b":31800,"c":49000,"d":48500,"e":115500},
      {"t":1703,"a":127500,"b":31200,"c":50700,"d":48700,"e":117200},
      {"t":1709,"a":131800,"b":31500,"c":48500,"d":50300,"e":113000},
      {"t":1715,"a":129000,"b":32000,"c":50300,"d":48700,"e":115200},
      {"t":1721,"a":127800,"b":32400,"c":48700,"d":49000,"e":116800},
      {"t":1727,"a":131200,"b":32700,"c":51000,"d":50500,"e":112500},
      {"t":1733,"a":133800,"b":32800,"c":49000,"d":48900,"e":114500},
      {"t":1739,"a":130000,"b":32900,"c":50500,"d":49300,"e":116200},
      {"t":1745,"a":132500,"b":33000,"c":48500,"d":50700,"e":112200},
      {"t":1751,"a":135000,"b":33100,"c":51000,"d":49100,"e":114200},
      {"t":1757,"a":130800,"b":33100,"c":49300,"d":49500,"e":116000},
      {"t":1763,"a":133200,"b":33100,"c":50700,"d":51000,"e":111800},
      {"t":1769,"a":135200,"b":33200,"c":48700,"d":49300,"e":113800},
      {"t":1775,"a":131000,"b":33200,"c":51300,"d":49700,"e":115500},
      {"t":1781,"a":133500,"b":33200,"c":49100,"d":51300,"e":111500},
      {"t":1787,"a":135500,"b":33200,"c":50500,"d":49500,"e":113500},
      {"t":1793,"a":131500,"b":33300,"c":48900,"d":50000,"e":115200},
      {"t":1799,"a":133000,"b":33300,"c":51000,"d":51500,"e":111500},
      {"t":1103,"a":139000,"b":34300,"c":71000,"d":60500,"e":152000},
      {"t":1086,"d":13500,"e":16500},
      {"t":1790,"d":11000,"e":12000},
      {"t":439,"d":10000,"e":12700},
      {"t":684,"e":30400},
      {"t":312,"e":3000},{"t":453,"e":3800},{"t":470,"e":3800},{"t":517,"e":2000},{"t":544,"e":2000},{"t":556,"e":0},{"t":580,"e":5000},
      {"t":612,"e":5800},{"t":624,"e":4200},{"t":644,"e":4600},{"t":663,"e":2000},{"t":682,"e":6100},{"t":703,"e":4200},{"t":714,"e":3500},{"t":740,"e":5800},{"t":814,"e":6100},
      {"t":732,"d":300,"e":0},{"t":807,"d":500,"e":400}
    ],
    "xarm": [
      {"t":0,"v":0,"g":1},{"t":162,"v":0,"g":1},{"t":163,"v":2500,"g":1},{"t":164,"v":0,"g":1},{"t":185,"v":0,"g":1},
      {"t":187,"v":1593,"g":1},{"t":188,"v":1598.5,"g":1},{"t":190,"v":1592,"g":1},{"t":193,"v":1576,"g":1},{"t":195,"v":1567,"g":1},
      {"t":198,"v":1561,"g":1},{"t":200,"v":1557,"g":1},{"t":203,"v":1563,"g":1},{"t":205,"v":1561,"g":1},{"t":208,"v":1554,"g":1},
      {"t":210,"v":1556,"g":1},{"t":212,"v":1561,"g":1},{"t":214,"v":1558,"g":1},{"t":217,"v":1566,"g":1},{"t":220,"v":1570,"g":1},
      {"t":224,"v":1574,"g":1},{"t":228,"v":1577,"g":1},{"t":232,"v":1575,"g":1},{"t":235,"v":1581,"g":1},{"t":240,"v":1586,"g":1},
      {"t":244,"v":1584,"g":1},{"t":248,"v":1592,"g":1},{"t":251,"v":1595,"g":1},{"t":255,"v":1597,"g":1},{"t":258,"v":1603,"g":1},
      {"t":262,"v":1601,"g":1},{"t":267,"v":1605.5,"g":1},{"t":272,"v":1607,"g":1},{"t":276,"v":1604,"g":1},{"t":280,"v":1608,"g":1},
      {"t":285,"v":1609,"g":1},{"t":290,"v":1610,"g":1},{"t":295,"v":1613,"g":1},{"t":299,"v":1612,"g":1},{"t":304,"v":1614,"g":1},
      {"t":310,"v":1612,"g":1},{"t":315,"v":1615,"g":1},{"t":320,"v":1614.5,"g":1},{"t":326,"v":1616,"g":1},{"t":332,"v":1614,"g":1},
      {"t":337,"v":1617.5,"g":1},{"t":342,"v":1617,"g":1},{"t":347,"v":1615,"g":1},{"t":352,"v":1613.5,"g":1},{"t":358,"v":1616,"g":1},
      {"t":364,"v":1615,"g":1},{"t":370,"v":1616.5,"g":1},{"t":376,"v":1617,"g":1},{"t":382,"v":1616,"g":1},{"t":388,"v":1617,"g":1},
      {"t":394,"v":1616.5,"g":1},{"t":400,"v":1617,"g":1},{"t":410,"v":1617.5,"g":1},{"t":420,"v":1617,"g":1},{"t":430,"v":1617.5,"g":1},
      {"t":440,"v":1618,"g":1},{"t":448,"v":1618.5,"g":1},{"t":455,"v":1617,"g":1},{"t":462,"v":1617.5,"g":1},{"t":470,"v":1617,"g":1},
      {"t":476,"v":1615.5,"g":1},{"t":482,"v":1614,"g":1},{"t":488,"v":1612,"g":1},{"t":494,"v":1610,"g":1},{"t":500,"v":1607.5,"g":1},
      {"t":506,"v":1605.5,"g":1},{"t":512,"v":1603,"g":1},{"t":518,"v":1601.5,"g":1},{"t":524,"v":1599.5,"g":1},{"t":530,"v":1598.5,"g":1},
      {"t":540,"v":1598,"g":1},{"t":550,"v":1597,"g":1},{"t":560,"v":1597.5,"g":1},{"t":570,"v":1596.5,"g":1},{"t":580,"v":1597,"g":1},
      {"t":590,"v":1596,"g":1},{"t":600,"v":1596.5,"g":1},{"t":610,"v":1596,"g":1},{"t":620,"v":1596.5,"g":1},{"t":630,"v":1595.5,"g":1},
      {"t":640,"v":1596,"g":1},{"t":650,"v":1595.5,"g":1},{"t":660,"v":1595,"g":1},{"t":670,"v":1595.5,"g":1},{"t":680,"v":1594.5,"g":1},
      {"t":690,"v":1595,"g":1},{"t":700,"v":1594.5,"g":1},{"t":710,"v":1594,"g":1},{"t":718,"v":1594.5,"g":1},{"t":722,"v":1593,"g":1},
      {"t":725,"v":1589,"g":1},{"t":728,"v":1591,"g":1},{"t":731,"v":1593,"g":1},{"t":734,"v":1590.5,"g":1},{"t":738,"v":1593,"g":1},
      {"t":742,"v":1592,"g":1},{"t":746,"v":1594,"g":1},{"t":750,"v":1593.5,"g":1},{"t":753,"v":1588,"g":1},{"t":755,"v":1580,"g":1},
      {"t":758,"v":1588,"g":1},{"t":762,"v":1593,"g":1},{"t":766,"v":1598,"g":1},{"t":770,"v":1602,"g":1},{"t":774,"v":1605,"g":1},
      {"t":778,"v":1609,"g":1},{"t":782,"v":1612,"g":1},{"t":785,"v":1614,"g":1},{"t":789,"v":1617,"g":1},
      {"t":789,"v":1617,"g":2},{"t":791,"v":1669,"g":2},{"t":794,"v":1676,"g":2},{"t":797,"v":1680,"g":2},{"t":799,"v":1682,"g":2},
      {"t":802,"v":1679,"g":2},{"t":805,"v":1668,"g":2},{"t":807,"v":1657.6,"g":2},{"t":810,"v":1675,"g":2},{"t":813,"v":1684,"g":2},
      {"t":815,"v":1687,"g":2},{"t":818,"v":1684,"g":2},{"t":821,"v":1686,"g":2},{"t":823,"v":1687,"g":2},{"t":826,"v":1680,"g":2},
      {"t":828.5,"v":1665,"g":2},{"t":831,"v":1678,"g":2},{"t":834,"v":1684,"g":2},{"t":836,"v":1686,"g":2},{"t":840,"v":1683,"g":2},
      {"t":844,"v":1685,"g":2},{"t":847,"v":1671.6,"g":2},{"t":850,"v":1678,"g":2},{"t":852,"v":1681,"g":2},{"t":855,"v":1677,"g":2},
      {"t":858,"v":1670,"g":2},{"t":861,"v":1659,"g":2},{"t":864,"v":1668,"g":2},{"t":866,"v":1673,"g":2},{"t":869,"v":1665,"g":2},
      {"t":872,"v":1655,"g":2},{"t":874,"v":1649,"g":2},{"t":877,"v":1655,"g":2},{"t":880,"v":1650,"g":2},{"t":882,"v":1652,"g":2},
      {"t":885,"v":1642,"g":2},{"t":888,"v":1635,"g":2},{"t":890,"v":1631,"g":2},
      {"t":889,"v":1630,"g":3},{"t":895,"v":1625,"g":3},{"t":900,"v":1621.5,"g":3},{"t":906,"v":1618,"g":3},{"t":914,"v":1613,"g":3},
      {"t":922,"v":1609,"g":3},{"t":930,"v":1606,"g":3},{"t":940,"v":1603,"g":3},{"t":949,"v":1600.5,"g":3},{"t":960,"v":1597.5,"g":3},
      {"t":975,"v":1594,"g":3},{"t":988,"v":1591.5,"g":3},{"t":1002,"v":1589,"g":3},{"t":1015,"v":1588.5,"g":3},{"t":1029,"v":1587.5,"g":3},
      {"t":1042,"v":1586.5,"g":3},{"t":1055,"v":1585.8,"g":3},{"t":1070,"v":1585.5,"g":3},{"t":1085,"v":1584.5,"g":3},{"t":1100,"v":1584.5,"g":3},
      {"t":1120,"v":1584,"g":3},{"t":1140,"v":1583.8,"g":3},{"t":1160,"v":1583.5,"g":3},{"t":1180,"v":1583.7,"g":3},{"t":1200,"v":1583.5,"g":3},
      {"t":1220,"v":1584,"g":3},{"t":1240,"v":1584.2,"g":3},{"t":1260,"v":1584.5,"g":3},{"t":1280,"v":1585,"g":3},{"t":1300,"v":1585,"g":3},
      {"t":1330,"v":1585.5,"g":3},{"t":1360,"v":1586,"g":3},{"t":1400,"v":1586,"g":3},{"t":1440,"v":1586.5,"g":3},{"t":1480,"v":1587,"g":3},
      {"t":1520,"v":1587.5,"g":3},{"t":1560,"v":1588,"g":3},{"t":1600,"v":1588.5,"g":3},{"t":1640,"v":1589,"g":3},{"t":1680,"v":1589.5,"g":3},
      {"t":1720,"v":1590,"g":3},{"t":1760,"v":1590.5,"g":3},{"t":1800,"v":1591,"g":3}
    ],
    "psl": [
      {"t":0,"w":2.15},{"t":791,"w":2.15},{"t":800,"w":3.8},{"t":807,"w":5.2},{"t":812.5,"w":5.35},{"t":825,"w":8.5},
      {"t":833,"w":8.6},{"t":845,"w":11.75},{"t":848,"w":11.9},{"t":859,"w":15.0},{"t":863,"w":15.2},{"t":873,"w":18.4},
      {"t":877,"w":18.6},{"t":888,"w":21.7},{"t":1800,"w":21.7}
    ]
  },
  "vconcat": [
    {
      "width": 1124,
      "height": 435,
      "data": {"name": "osa"},
      "transform": [
        {"fold": ["a", "b", "c", "d", "e"], "as": ["s", "p"]},
        {"filter": "isValid(datum.p)"}
      ],
      "mark": {"type": "point", "filled": true, "size": 30, "opacity": 1, "clip": true},
      "encoding": {
        "x": {
          "field": "t", "type": "quantitative",
          "scale": {"domain": [0, 1800], "nice": false},
          "axis": {"title": null, "values": [0, 200, 400, 600, 800, 1000, 1200, 1400, 1600, 1800], "format": "d"}
        },
        "y": {
          "field": "p", "type": "quantitative",
          "scale": {"domain": [-7600, 159600], "nice": false, "zero": false},
          "axis": {"title": "OSA power", "values": [0, 20000, 40000, 60000, 80000, 100000, 120000, 140000], "format": "d"}
        },
        "color": {
          "field": "s", "type": "nominal",
          "scale": {"domain": ["a", "b", "c", "d", "e"], "range": ["#1f77b4", "#ff7f0e", "#2ca02c", "#d62728", "#9467bd"]},
          "legend": {
            "title": null, "orient": "top-left", "offset": 7,
            "labelExpr": "{'a': '-45MHz', 'b': '-9MHz', 'c': '0MHz', 'd': '9MHz', 'e': '45MHz'}[datum.label]",
            "fillColor": "rgba(255,255,255,0.8)", "strokeColor": "#cccccc", "cornerRadius": 3,
            "padding": 6, "rowPadding": 7, "symbolSize": 30, "symbolType": "circle",
            "symbolOffset": 9, "labelOffset": 17, "labelFontSize": 13, "labelFont": "DejaVu Sans", "labelColor": "black"
          }
        },
        "order": {"field": "s", "type": "ordinal"}
      }
    },
    {
      "width": 1124,
      "height": 197,
      "data": {"name": "xarm"},
      "encoding": {
        "x": {
          "field": "t", "type": "quantitative",
          "scale": {"domain": [0, 1800], "nice": false},
          "axis": {"title": null, "values": [0, 200, 400, 600, 800, 1000, 1200, 1400, 1600, 1800], "format": "d", "minExtent": 31}
        },
        "y": {
          "field": "v", "type": "quantitative",
          "scale": {"domain": [1550, 1700], "nice": false, "zero": false},
          "axis": {"title": "X arm transmission [norm]", "values": [1550, 1575, 1600, 1625, 1650, 1675, 1700], "format": "d"}
        }
      },
      "layer": [
        {
          "transform": [{"filter": "datum.g != 2"}],
          "mark": {"type": "line", "clip": true, "strokeWidth": 1.8, "color": "#1f77b4"},
          "encoding": {"detail": {"field": "g", "type": "nominal"}}
        },
        {
          "transform": [{"filter": "datum.g == 2"}],
          "mark": {"type": "line", "clip": true, "strokeWidth": 1.8, "color": "#1f77b4", "opacity": 0.2},
          "encoding": {}
        }
      ]
    },
    {
      "width": 1124,
      "height": 197,
      "data": {"name": "psl"},
      "mark": {"type": "line", "strokeWidth": 1.8, "color": "#1f77b4", "clip": true},
      "encoding": {
        "x": {
          "field": "t", "type": "quantitative",
          "scale": {"domain": [0, 1800], "nice": false},
          "axis": {"title": "Time from 1223682330 [s]", "values": [0, 200, 400, 600, 800, 1000, 1200, 1400, 1600, 1800], "format": "d", "titlePadding": 4}
        },
        "y": {
          "field": "w", "type": "quantitative",
          "scale": {"domain": [1.17, 22.74], "nice": false, "zero": false},
          "axis": {"title": "PSL power [W]", "values": [5, 10, 15, 20], "format": "d"}
        }
      }
    }
  ]
}
